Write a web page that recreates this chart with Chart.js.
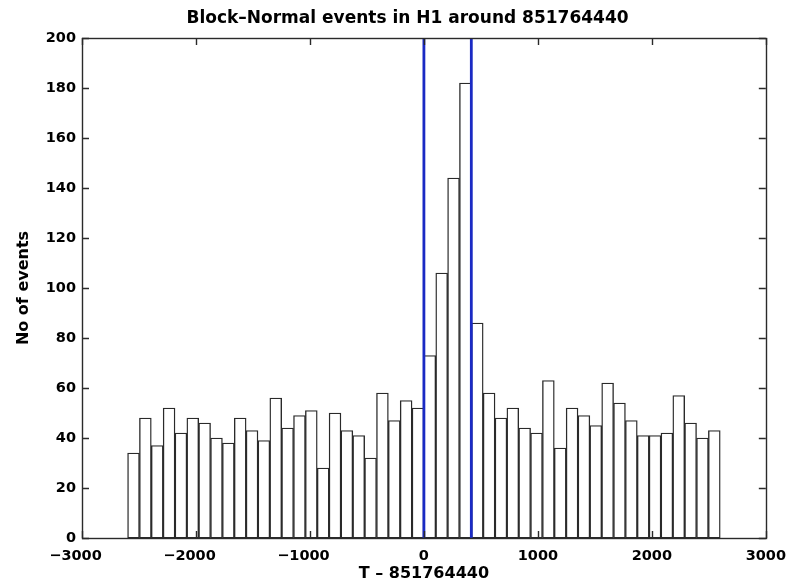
<!DOCTYPE html>
<html>
<head>
<meta charset="utf-8">
<script src="https://cdn.jsdelivr.net/npm/chart.js@4/dist/chart.umd.min.js"></script>
<style>
  html, body { margin: 0; padding: 0; background: #fff; }
  #wrap { width: 788px; height: 583px; }
</style>
</head>
<body>
<div id="wrap"><canvas id="c" width="788" height="583"></canvas></div>
<script>
// Histogram bins: left edges start at -2600, width 104 s
const binStart = -2600;
const binWidth = 104;
const counts = [
  34, 48, 37, 52, 42, 48, 46, 40, 38, 48, 43, 39, 56,
  44, 49, 51, 28, 50, 43, 41, 32, 58, 47, 55, 52,
  73, 106, 144, 182, 86, 58, 48, 52, 44, 42,
  63, 36, 52, 49, 45, 62, 54, 47, 41, 41, 42, 57, 46, 40, 43
];
// Vertical marker lines (blue)
const markerTimes = [0, 416];
const xTicks = [-3000, -2000, -1000, 0, 1000, 2000, 3000];
const yTicks = [0, 20, 40, 60, 80, 100, 120, 140, 160, 180, 200];

const FONT = "'DejaVu Sans', sans-serif";

const barData = counts.map((v, i) => ({ x: binStart + binWidth * (i + 0.5), y: v }));

const datasets = [{
  type: 'bar',
  data: barData,
  backgroundColor: '#ffffff',
  borderColor: '#2a2a2a',
  borderWidth: 1.4,
  borderSkipped: false,
  barPercentage: 1.0,
  categoryPercentage: 1.0,
  order: 2
}];
markerTimes.forEach(t => {
  datasets.push({
    type: 'line',
    data: [{ x: t, y: 0 }, { x: t, y: 200 }],
    borderColor: '#1a2ac4',
    borderWidth: 2.8,
    pointRadius: 0,
    fill: false,
    order: 1
  });
});

const frame = {
  id: 'frame',
  afterDatasetsDraw(chart) {
    const { ctx, chartArea: a, scales } = chart;
    ctx.save();
    ctx.strokeStyle = '#2a2a2a';
    ctx.lineWidth = 1.4;
    ctx.strokeRect(Math.round(a.left) + 0.5, Math.round(a.top) + 0.5,
                   Math.round(a.right - a.left), Math.round(a.bottom - a.top));
    const L = 7;
    ctx.beginPath();
    xTicks.forEach(v => {
      const px = Math.round(scales.x.getPixelForValue(v)) + 0.5;
      ctx.moveTo(px, a.bottom); ctx.lineTo(px, a.bottom - L);
      ctx.moveTo(px, a.top); ctx.lineTo(px, a.top + L);
    });
    yTicks.forEach(v => {
      const py = Math.round(scales.y.getPixelForValue(v)) + 0.5;
      ctx.moveTo(a.left, py); ctx.lineTo(a.left + L, py);
      ctx.moveTo(a.right, py); ctx.lineTo(a.right - L, py);
    });
    ctx.stroke();
    ctx.restore();
  }
};

// negative labels: true minus sign, digits centred on the tick (MATLAB style)
const fmtX = v => v < 0 ? '\u2212' + Math.abs(v) + '\u2007\u200A\u200A' : String(v);

new Chart(document.getElementById('c'), {
  data: { datasets },
  options: {
    responsive: false,
    animation: false,
    events: [],
    layout: { padding: { left: 43, right: 16, top: 0, bottom: 0 } },
    plugins: {
      legend: { display: false },
      tooltip: { enabled: false },
      title: {
        display: true,
        text: 'Block–Normal events in H1 around 851764440',
        color: '#000',
        font: { family: FONT, size: 17, weight: 'bold', lineHeight: 1.2 },
        padding: { top: 8, bottom: 9.6 }
      }
    },
    scales: {
      x: {
        type: 'linear',
        min: -3000, max: 3000,
        offset: false,
        afterBuildTicks: s => { s.ticks = xTicks.map(v => ({ value: v })); },
        afterFit: s => { s.height = 45; },
        grid: { display: false },
        border: { display: false },
        ticks: { color: '#000', font: { family: FONT, size: 14.5, weight: 'bold' }, padding: 2, maxRotation: 0,
                 callback: v => fmtX(v) },
        title: { display: true, text: 'T – 851764440', color: '#000',
                 font: { family: FONT, size: 16, weight: 'bold', lineHeight: 1.2 }, padding: { top: 0, bottom: 0 } }
      },
      y: {
        type: 'linear',
        min: 0, max: 200,
        afterBuildTicks: s => { s.ticks = yTicks.map(v => ({ value: v })); },
        afterFit: s => { s.width = 39; },
        grid: { display: false, drawTicks: false },
        border: { display: false },
        ticks: { color: '#000', font: { family: FONT, size: 14.5, weight: 'bold' }, padding: 6,
                 callback: v => String(v) },
        title: { display: true, text: 'No of events', color: '#000',
                 font: { family: FONT, size: 16, weight: 'bold', lineHeight: 1.2 }, padding: { top: -28.6, bottom: 0 } }
      },
      yRight: {
        type: 'linear',
        position: 'right',
        min: 0, max: 200,
        afterFit: s => { s.width = 6; },
        grid: { display: false, drawTicks: false },
        border: { display: false },
        ticks: { display: false }
      }
    }
  },
  plugins: [frame]
});
</script>
</body>
</html>
